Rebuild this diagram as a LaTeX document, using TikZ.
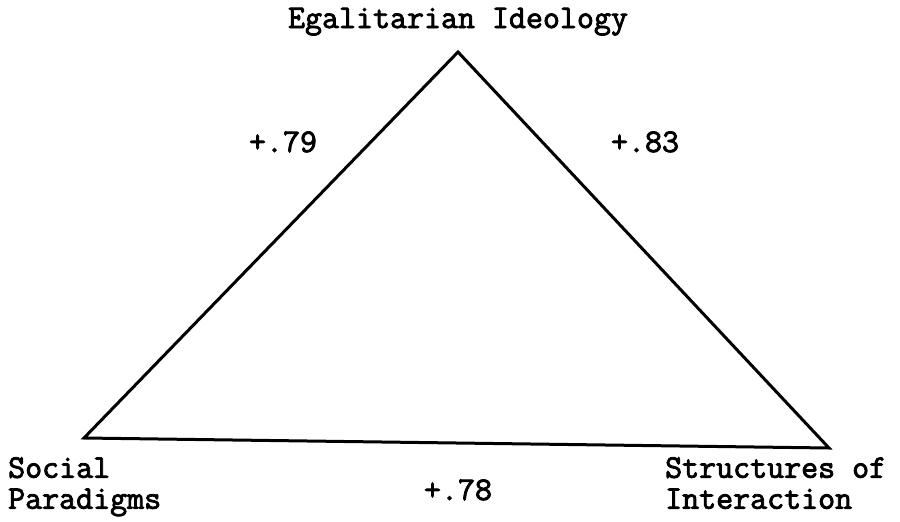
\documentclass[tikz,border=0pt]{standalone}
\usepackage{fontspec}
\setmonofont{Latin Modern Mono}[FakeBold=2.5]
\usepackage{tikz}
\usetikzlibrary{positioning}

\begin{document}
\begin{tikzpicture}[
    x=1pt,y=-1pt,
    lbl/.style={font=\ttfamily\fontsize{33}{31}\selectfont,inner sep=0pt},
    corner/.style={lbl,align=left,anchor=north west},
    side/.style={line width=3pt}
  ]
    \useasboundingbox (0,0) rectangle (900,522);
    \coordinate (top) at (458,52);
    \coordinate (left) at (84,438);
    \coordinate (right) at (829,448);
    \draw[side] (top) -- (right) -- (left) -- cycle;
    \node[lbl,anchor=base] (ideology) at (458,28) {Egalitarian Ideology};
    \node[corner] (paradigms) at (8,457) {Social\\Paradigms};
    \node[corner] (structures) at (665,457) {Structures of\\Interaction};
    \node[lbl,anchor=base] (rtop) at (283,152) {+.79};
    \node[lbl,anchor=base] (rright) at (645,152) {+.83};
    \node[lbl,anchor=base] (rbottom) at (458,500) {+.78};
  \end{tikzpicture}
\end{document}
